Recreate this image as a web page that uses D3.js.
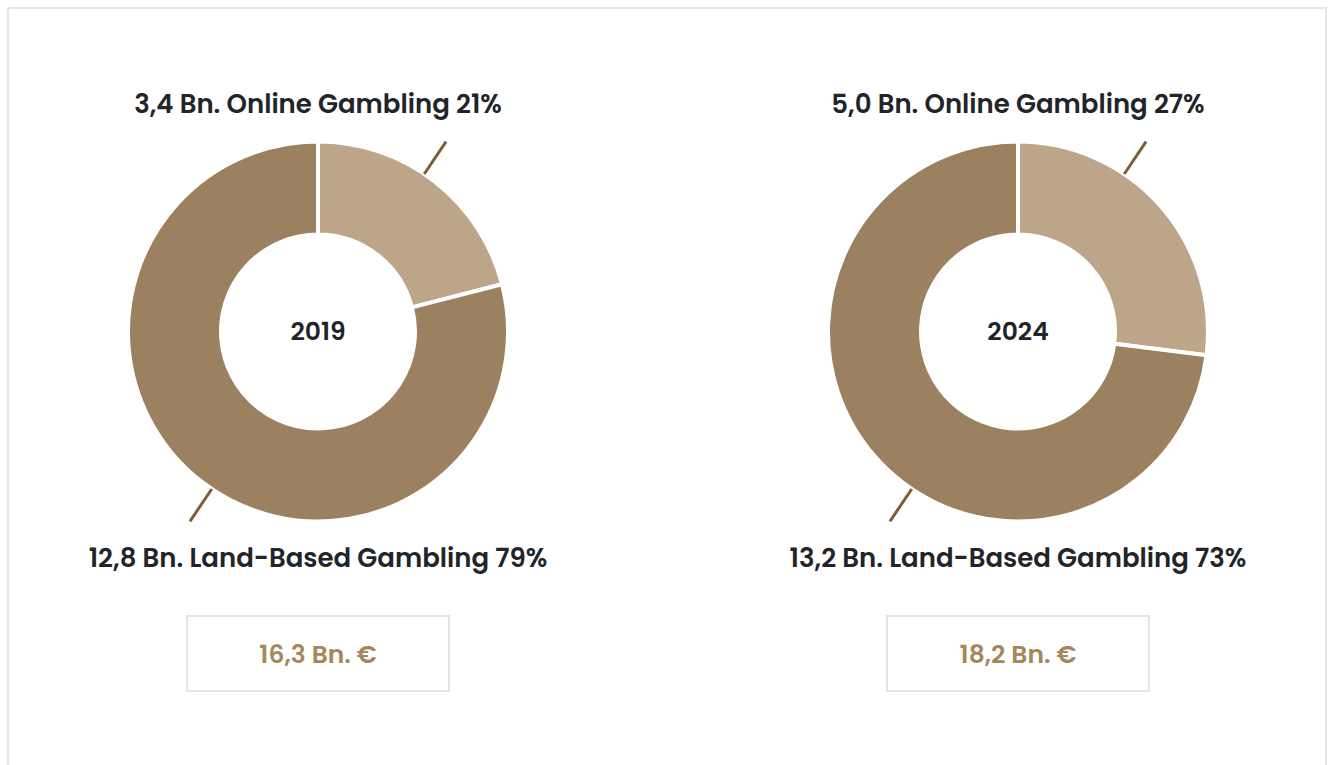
<!DOCTYPE html>
<html>
    <head>
        <script src="https://d3js.org/d3.v7.min.js"></script>
        <style>
            body { margin: 0; background: #fff; }
            text { font-family: Poppins, Inter, "Open Sans", sans-serif; font-weight: 600; }
        </style>
    </head>
    <body>
        <div id="vizBody"></div>
    </body>
    <script>
        //chart data
        let years = ["2019", "2024"];
        let onlineBn = [3.4, 5.0];
        let landBn = [12.8, 13.2];
        let onlinePct = [21, 27];
        let landPct = [79, 73];
        let totalBn = [16.3, 18.2];

        //size of viz space
        let maxWidth = 1328,
            maxHeight = 765,
            outerR = 190,
            innerR = 97;

        //comma as decimal mark
        let fmt = d3.formatLocale({decimal: ",", thousands: ".", grouping: [3], currency: ["", " €"]}).format(".1f");

        let svg = d3.select("#vizBody")
                    .append("svg")
                        .attr("width", maxWidth)
                        .attr("height", maxHeight);

        //outer frame
        svg.append("rect")
           .attr("x", 8).attr("y", 8)
           .attr("width", 1318).attr("height", 800)
           .attr("fill", "none")
           .attr("stroke", "#e6e6e0")
           .attr("stroke-width", 2);

        //one donut per year, centered in its half
        let xScale = d3.scalePoint()
                       .domain(years)
                       .range([318, 1018]);

        let pie = d3.pie().sort(null).value(d => d.pct);
        let arc = d3.arc().innerRadius(innerR).outerRadius(outerR);
        let colors = d3.scaleOrdinal().domain(["online", "land"]).range(["#bca589", "#9c8160"]);

        let leaderAngle = 34 * Math.PI / 180;

        years.forEach((year, i) => {
            let g = svg.append("g")
                       .attr("transform", "translate(" + xScale(year) + ",331.5)");

            let slices = [
                {key: "online", pct: onlinePct[i]},
                {key: "land", pct: landPct[i]}
            ];

            g.selectAll("path")
             .data(pie(slices))
             .join("path")
                .attr("d", arc)
                .attr("fill", d => colors(d.data.key))
                .attr("stroke", "#fff")
                .attr("stroke-width", 4);

            //leader lines
            [leaderAngle, leaderAngle + Math.PI].forEach(a => {
                g.append("line")
                 .attr("x1", Math.sin(a) * 190).attr("y1", -Math.cos(a) * 190)
                 .attr("x2", Math.sin(a) * 229).attr("y2", -Math.cos(a) * 229)
                 .attr("stroke", "#7d5f37")
                 .attr("stroke-width", 3);
            });

            //year in the hole
            g.append("text")
             .attr("text-anchor", "middle")
             .attr("dy", "0.35em")
             .attr("font-size", 25)
             .attr("fill", "#212529")
             .text(year);

            //slice labels
            g.append("text")
             .attr("text-anchor", "middle")
             .attr("y", -228)
             .attr("dy", "0.35em")
             .attr("font-size", 26)
             .attr("fill", "#212529")
             .text(fmt(onlineBn[i]) + " Bn. Online Gambling " + onlinePct[i] + "%");

            g.append("text")
             .attr("text-anchor", "middle")
             .attr("y", 226)
             .attr("dy", "0.35em")
             .attr("font-size", 26)
             .attr("fill", "#212529")
             .text(fmt(landBn[i]) + " Bn. Land-Based Gambling " + landPct[i] + "%");

            //total box
            g.append("rect")
             .attr("x", -131).attr("y", 284.5)
             .attr("width", 262).attr("height", 75)
             .attr("fill", "#fff")
             .attr("stroke", "#e6e5dd")
             .attr("stroke-width", 2);

            g.append("text")
             .attr("text-anchor", "middle")
             .attr("y", 322.5)
             .attr("dy", "0.35em")
             .attr("font-size", 25)
             .attr("fill", "#a5875a")
             .text(fmt(totalBn[i]) + " Bn. €");
        });
    </script>
</html>
